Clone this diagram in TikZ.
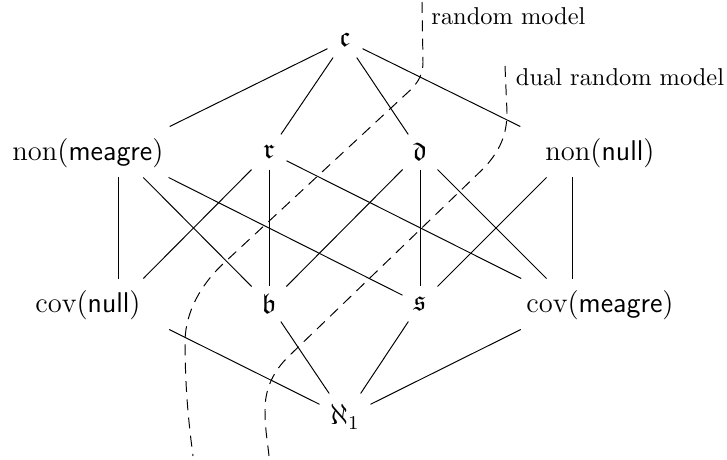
\documentclass[tikz,border=0pt]{standalone}
\usepackage{amssymb}
\usepackage{fontspec}
\begin{document}
\begin{tikzpicture}[x=0.41pt,y=-0.41pt,
  every node/.style={font=\fontsize{11.7}{14}\selectfont},
  lab/.style={anchor=base, inner sep=0pt},
  sbox/.style={inner sep=0pt, minimum width=14pt, minimum height=14pt},
  abox/.style={inner sep=0pt, minimum width=20.5pt, minimum height=18.9pt},
  bport/.style={inner sep=0pt, minimum width=45.1pt, minimum height=20.5pt},
  edge/.style={line width=0.4pt},
  model/.style={line width=0.4pt, dash pattern=on 4.5pt off 3pt},
  mlab/.style={anchor=base west, inner sep=0pt, font=\normalsize}]
\useasboundingbox (0,0) rectangle (727,459);
% entries
\node[sbox] (c) at (345,40) {$\mathfrak{c}$};
\node[sbox] (r) at (269,152) {$\mathfrak{r}$};
\node[sbox] (d) at (420,152) {$\mathfrak{d}$};
\node[sbox] (b) at (269,304) {$\mathfrak{b}$};
\node[sbox] (s) at (420,304) {$\mathfrak{s}$};
\node[abox] (a) at (345,417) {$\aleph_1$};
\node[lab] (nmt) at (88,160) {$\mathrm{non}(\mathsf{meagre})$};
\node[lab] (nnt) at (600,160) {$\mathrm{non}(\mathsf{null})$};
\node[lab] (cnt) at (88,312) {$\mathrm{cov}(\mathsf{null})$};
\node[lab] (cmt) at (600,312) {$\mathrm{cov}(\mathsf{meagre})$};
\node[bport] (nm) at (118,152) {};
\node[bport] (nn) at (572,152) {};
\node[bport] (cn) at (118,304) {};
\node[bport] (cm) at (572,304) {};
% connectors
\draw[edge] (c) -- (nm);
\draw[edge] (c) -- (r);
\draw[edge] (c) -- (d);
\draw[edge] (c) -- (nn);
\draw[edge] (nm) -- (cn);
\draw[edge] (nm) -- (b);
\draw[edge] (nm) -- (s);
\draw[edge] (r) -- (cn);
\draw[edge] (r) -- (b);
\draw[edge] (r) -- (cm);
\draw[edge] (d) -- (b);
\draw[edge] (d) -- (s);
\draw[edge] (d) -- (cm);
\draw[edge] (nn) -- (s);
\draw[edge] (nn) -- (cm);
\draw[edge] (cn) -- (a);
\draw[edge] (b) -- (a);
\draw[edge] (s) -- (a);
\draw[edge] (cm) -- (a);
% models
\coordinate (rtop) at (422,2);
\coordinate (rbot) at (193,456);
\coordinate (dtop) at (505,66);
\coordinate (dbot) at (269,456);
\draw[model] (rtop) -- (423,62) .. controls (423,78) and (415,86) .. (405,95)
  -- (225,262) .. controls (200,285) and (186,312) .. (185,340)
  .. controls (185,390) and (189,425) .. (rbot);
\draw[model] (dtop) -- (507,112) .. controls (507,135) and (500,150) .. (485,167)
  -- (290,355) .. controls (272,372) and (265,390) .. (265,410)
  .. controls (265,430) and (268,445) .. (dbot);
\node[mlab] (rl) at (431,24.5) {random model};
\node[mlab] (dl) at (515.5,85) {dual random model};
\end{tikzpicture}
\end{document}
